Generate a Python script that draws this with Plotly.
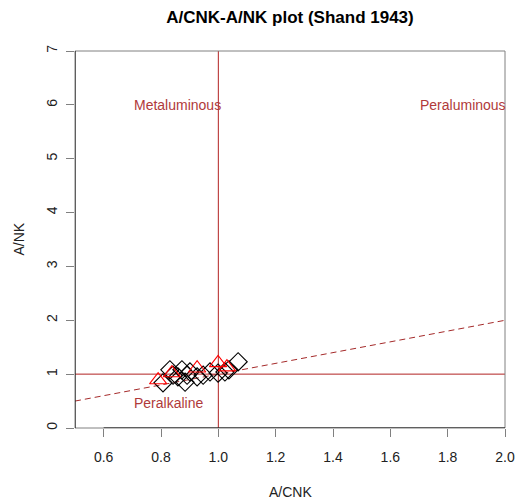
import plotly.graph_objects as go

# Sample compositions: A/CNK vs A/NK molar ratios
diamond_acnk = [1.069, 1.037, 1.023, 0.999, 0.971, 0.947, 0.926, 0.901,
                0.891, 0.884, 0.873, 0.859, 0.842, 0.831, 0.807]
diamond_ank = [1.23, 1.08, 1.04, 1.02, 1.04, 0.98, 0.95, 1.04,
               0.98, 0.85, 1.08, 0.95, 0.98, 1.08, 0.84]

triangle_acnk = [0.790, 0.838, 0.926, 0.999, 1.030]
triangle_ank = [0.89, 1.02, 1.11, 1.21, 1.13]

# Field boundaries and labels
x_range = [0.5, 2.0]
y_range = [0, 7]
x_ticks = [0.6, 0.8, 1.0, 1.2, 1.4, 1.6, 1.8, 2.0]
x_tick_text = ["0.6", "0.8", "1.0", "1.2", "1.4", "1.6", "1.8", "2.0"]
y_ticks = [0, 1, 2, 3, 4, 5, 6, 7]
field_names = ["Metaluminous", "Peraluminous", "Peralkaline"]
field_x = [0.856, 1.853, 0.826]
field_y = [6.0, 6.0, 0.46]

guide = "#B22222"
label_col = "#B03A3A"
font_family = "Liberation Sans, Arial, sans-serif"

fig = go.Figure()

# A/NK = A/CNK reference (dashed)
fig.add_trace(go.Scatter(x=x_range, y=x_range, mode="lines",
                         line=dict(color="#A52A2A", width=1, dash="6px,4px"),
                         hoverinfo="skip", showlegend=False))
# A/NK = 1
fig.add_trace(go.Scatter(x=x_range, y=[1, 1], mode="lines",
                         line=dict(color=guide, width=1),
                         hoverinfo="skip", showlegend=False))
# A/CNK = 1
fig.add_trace(go.Scatter(x=[1, 1], y=y_range, mode="lines",
                         line=dict(color=guide, width=1),
                         hoverinfo="skip", showlegend=False))

fig.add_trace(go.Scatter(x=diamond_acnk, y=diamond_ank, mode="markers",
                         marker=dict(symbol="diamond-open", size=14, color="black",
                                     line=dict(width=1.1, color="black")),
                         showlegend=False))
fig.add_trace(go.Scatter(x=triangle_acnk, y=triangle_ank, mode="markers",
                         marker=dict(symbol="triangle-up-open", size=15, color="red",
                                     line=dict(width=1.1, color="red")),
                         showlegend=False))

for name, fx, fy in zip(field_names, field_x, field_y):
    fig.add_annotation(x=fx, y=fy, text=name, showarrow=False,
                       xanchor="center", yanchor="middle",
                       font=dict(family=font_family, size=14, color=label_col))

# Frame (grey box) and black axis lines
fig.add_shape(type="rect", xref="paper", yref="paper", x0=0, y0=0, x1=1, y1=1,
              line=dict(color="#808080", width=1), layer="above")
fig.add_shape(type="line", xref="x", yref="y", x0=0.6, x1=2.0, y0=0, y1=0,
              line=dict(color="black", width=1), layer="above")
fig.add_shape(type="line", xref="x", yref="y", x0=0.5, x1=0.5, y0=0, y1=7,
              line=dict(color="black", width=1), layer="above")

# Axis titles
fig.add_annotation(x=0.5, y=0, xref="paper", yref="paper", text="A/CNK",
                   showarrow=False, yanchor="middle", yshift=-64,
                   font=dict(family=font_family, size=14, color="#222"))
fig.add_annotation(x=0, y=0.5, xref="paper", yref="paper", text="A/NK",
                   showarrow=False, xanchor="center", xshift=-57, textangle=-90,
                   font=dict(family=font_family, size=14, color="#222"))

fig.update_layout(
    width=515, height=504,
    margin=dict(l=75, r=10, t=51, b=76, autoexpand=False),
    paper_bgcolor="white", plot_bgcolor="white",
    title=dict(text="<b>A/CNK-A/NK plot (Shand 1943)</b>", x=0.5, xref="paper",
               xanchor="center", y=1 - 17 / 504, yanchor="middle",
               font=dict(family=font_family, size=17, color="black")),
    font=dict(family=font_family, size=14, color="#222"),
    xaxis=dict(range=x_range, tickvals=x_ticks, ticktext=x_tick_text,
               showgrid=False, zeroline=False, showline=False, automargin=False,
               ticks="outside", ticklen=8, tickcolor="#808080",
               ticklabelstandoff=8,
               tickfont=dict(family=font_family, size=14, color="#222")),
    yaxis=dict(range=y_range, tickvals=y_ticks, tickangle=-90,
               showgrid=False, zeroline=False, showline=False, automargin=False,
               ticks="outside", ticklen=8, tickcolor="#808080",
               ticklabelstandoff=3,
               tickfont=dict(family=font_family, size=14, color="#222")),
)

fig.write_html("out.html")
